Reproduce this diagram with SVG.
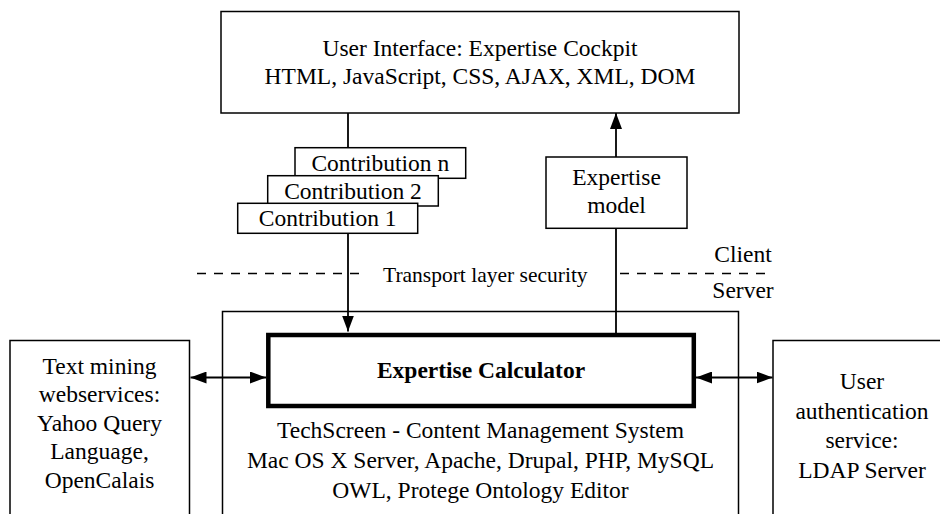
<svg xmlns="http://www.w3.org/2000/svg" width="940" height="514" viewBox="0 0 940 514">
  <defs>
    <style>
      .box { fill: #fff; stroke: #000; stroke-width: 1.5; }
      .thick { fill: #fff; stroke: #000; stroke-width: 4.5; }
      .wire { fill: none; stroke: #000; stroke-width: 1.8; }
      .dash { fill: none; stroke: #000; stroke-width: 1.5; stroke-dasharray: 9 8; }
      text { font-family: 'Liberation Serif', 'DejaVu Serif', 'Times New Roman', Times, serif; font-size: 23.5px; fill: #000; text-anchor: middle; }
      .bold { font-weight: bold; }
      .small { font-size: 21.5px; text-anchor: start; }
    </style>
    <marker id="arrow" viewBox="0 0 16 12" refX="16" refY="6" markerWidth="16" markerHeight="12" markerUnits="userSpaceOnUse" orient="auto-start-reverse">
      <path d="M0,0 L16,6 L0,12 z" fill="#000"/>
    </marker>
  </defs>

  <g font-family="'Liberation Serif', 'DejaVu Serif', serif">
  <!-- client / server separation -->
  <g id="tls-boundary">
    <line class="dash" x1="197" y1="273.5" x2="359" y2="273.5"/>
    <line class="dash" x1="620" y1="273.5" x2="766" y2="273.5"/>
    <text class="small" x="383" y="282">Transport layer security</text>
    <text x="743" y="261.5">Client</text>
    <text x="743" y="297.5">Server</text>
  </g>

  <g id="server">
    <rect class="box" x="222.5" y="311.5" width="516" height="220"/>
    <text x="480.5" y="437.5">TechScreen - Content Management System</text>
    <text x="480.5" y="467.5">Mac OS X Server, Apache, Drupal, PHP, MySQL</text>
    <text x="480.5" y="497.5">OWL, Protege Ontology Editor</text>
  </g>

  <g id="connectors">
    <line class="wire" x1="348" y1="113" x2="348" y2="148"/>
    <line class="wire" x1="348" y1="233" x2="348" y2="331.5" marker-end="url(#arrow)"/>
    <line class="wire" x1="616" y1="333" x2="616" y2="228"/>
    <line class="wire" x1="616" y1="157" x2="616" y2="113" marker-end="url(#arrow)"/>
    <line class="wire" x1="190.5" y1="377.5" x2="266" y2="377.5" marker-start="url(#arrow)" marker-end="url(#arrow)"/>
    <line class="wire" x1="696" y1="377.5" x2="772.5" y2="377.5" marker-start="url(#arrow)" marker-end="url(#arrow)"/>
  </g>

  <g id="user-interface">
    <rect class="box" x="221" y="11.5" width="518" height="101.5"/>
    <text x="480" y="56">User Interface: Expertise Cockpit</text>
    <text x="480" y="84">HTML, JavaScript, CSS, AJAX, XML, DOM</text>
  </g>

  <g id="contribution-n">
    <rect class="box" x="295" y="147.7" width="170.7" height="30.6"/>
    <text x="380.3" y="171">Contribution n</text>
  </g>
  <g id="contribution-2">
    <rect class="box" x="267.7" y="175.7" width="170.6" height="30.3"/>
    <text x="353" y="199">Contribution 2</text>
  </g>
  <g id="contribution-1">
    <rect class="box" x="237.7" y="203.3" width="180" height="30"/>
    <text x="327.7" y="226">Contribution 1</text>
  </g>

  <g id="expertise-model">
    <rect class="box" x="546" y="157" width="141" height="71.3"/>
    <text x="616.5" y="185">Expertise</text>
    <text x="616.5" y="213">model</text>
  </g>

  <g id="expertise-calculator">
    <rect class="thick" x="268.3" y="335" width="425.5" height="71"/>
    <text class="bold" x="481" y="378">Expertise Calculator</text>
  </g>

  <g id="text-mining">
    <rect class="box" x="10" y="340.5" width="179.5" height="200"/>
    <text x="99.5" y="373.5">Text mining</text>
    <text x="99.5" y="402">webservices:</text>
    <text x="99.5" y="430.5">Yahoo Query</text>
    <text x="99.5" y="459">Language,</text>
    <text x="99.5" y="487.5">OpenCalais</text>
  </g>

  <g id="user-authentication">
    <rect class="box" x="773" y="340.5" width="200" height="200"/>
    <text x="862" y="389">User</text>
    <text x="862" y="418.5">authentication</text>
    <text x="862" y="448">service:</text>
    <text x="862" y="477.5">LDAP Server</text>
  </g>
  </g>
</svg>
